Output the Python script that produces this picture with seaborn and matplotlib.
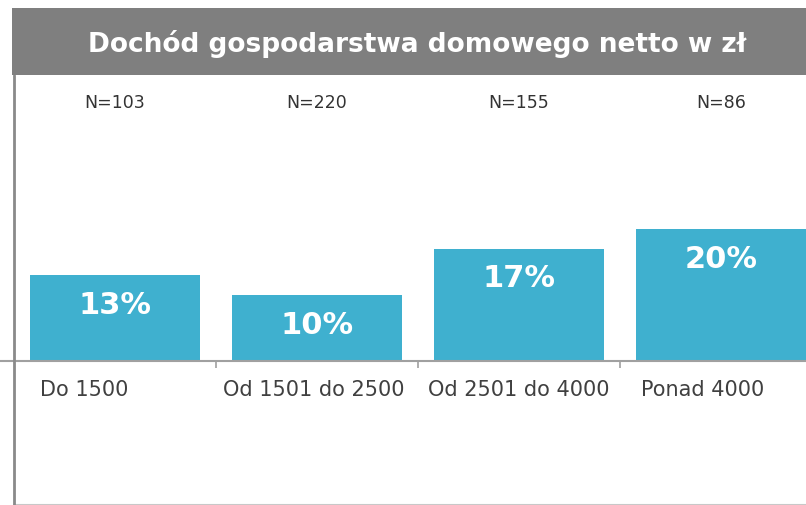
import matplotlib
matplotlib.use("Agg")
import matplotlib.pyplot as plt
import matplotlib.transforms as mtransforms
from matplotlib.patches import Rectangle
import seaborn as sns
import pandas as pd

categories = ["Do 1500", "Od 1501 do 2500", "Od 2501 do 4000", "Ponad 4000"]
values = [13, 10, 17, 20]
n_labels = ["N=103", "N=220", "N=155", "N=86"]
title = "Dochód gospodarstwa domowego netto w zł"

sns.set_style("white")
plt.rcParams["font.family"] = ["DejaVu Sans"]

W, H = 806, 505
fig = plt.figure(figsize=(W / 100, H / 100), dpi=100)

# axes spans from banner bottom (y=75px) to figure bottom, full width
ax = fig.add_axes([0, 0, 1, (H - 75) / H])

df = pd.DataFrame({"cat": categories, "val": values})
bar_color = "#3fb0cf"
sns.barplot(data=df, x="cat", y="val", color=bar_color, width=170 / 202,
            saturation=1, ax=ax, edgecolor="none")

px_per_unit_x = 202
left_px = 14
x0 = -0.5 - left_px / px_per_unit_x
x1 = -0.5 + (W - left_px) / px_per_unit_x
ax.set_xlim(x0, x1)

px_per_pct = 6.6
base_px = 361
ax.set_ylim(-(H - base_px) / px_per_pct, (base_px - 75) / px_per_pct)

for s in ["top", "right", "left"]:
    ax.spines[s].set_visible(False)
ax.spines["bottom"].set_position(("data", 0))
ax.spines["bottom"].set_color("#a0a0a0")
ax.spines["bottom"].set_linewidth(1.5)

ax.set_yticks([])
ax.set_xlabel("")
ax.set_ylabel("")
ax.set_xticks(range(len(categories)))
ax.set_xticklabels(categories)
ax.set_xticks([0.5, 1.5, 2.5], minor=True)
ax.tick_params(axis="x", which="both", bottom=True)
ax.tick_params(axis="x", which="major", length=0, pad=14, labelsize=15,
               labelcolor="#404040")
ax.tick_params(axis="x", which="minor", length=5, width=1.2, color="#a0a0a0",
               direction="out")

# small horizontal shifts of category labels (pixels)
label_shift_px = [-31, -3, 0, -18]
for lab, dx in zip(ax.get_xticklabels(), label_shift_px):
    lab.set_transform(lab.get_transform() +
                      mtransforms.ScaledTranslation(dx / 100, 0, fig.dpi_scale_trans))

# left vertical line and faint bottom line
ax.axvline(-0.5, color="#8a8a8a", lw=2, zorder=5)
ax.axhline(ax.get_ylim()[0] + 0.05, xmin=left_px / W, xmax=1, color="#c8c8c8", lw=1.5)

# value labels inside bars
for i, v in enumerate(values):
    ax.text(i, v - 30 / px_per_pct, f"{v}%", ha="center", va="center",
            color="white", fontsize=22, fontweight="bold")

# N labels
trans = mtransforms.blended_transform_factory(ax.transData, ax.transAxes)
for i, n in enumerate(n_labels):
    ax.text(i, (H - 103) / (H - 75), n, transform=trans, ha="center",
            va="center", fontsize=12.5, color="#333333")

# title banner
fig.patches.append(Rectangle((12 / W, (H - 75) / H), 1, 67 / H,
                             transform=fig.transFigure, facecolor="#7f7f7f",
                             edgecolor="none", zorder=0))
fig.text(417 / W, (H - 44) / H, title, ha="center", va="center", color="white",
         fontsize=19, fontweight="bold")

fig.savefig("out.png", dpi=100)
